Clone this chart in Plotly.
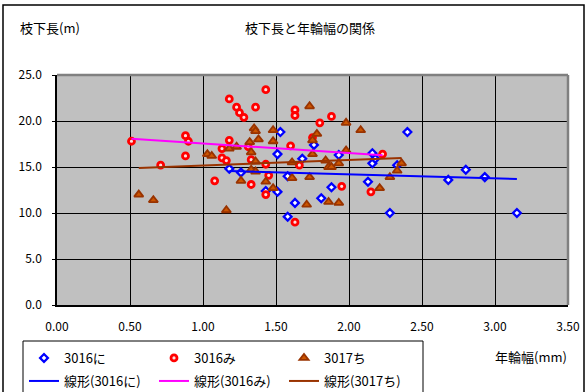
import numpy as np
import plotly.graph_objects as go

# 年輪幅 (mm) と 枝下長 (m) — 3 調査木
ni_x = [1.18, 1.26, 1.43, 1.51, 1.51, 1.53, 1.58, 1.58, 1.63, 1.68, 1.76, 1.81, 1.88,
        1.93, 2.13, 2.16, 2.16, 2.18, 2.28, 2.33, 2.40, 2.68, 2.80, 2.93, 3.15]
ni_y = [14.8, 14.4, 12.4, 12.3, 16.4, 18.8, 14.0, 9.6, 11.1, 15.9, 17.4, 11.6, 12.8,
        16.3, 13.4, 16.5, 15.4, 15.9, 10.0, 15.2, 18.8, 13.6, 14.7, 13.9, 10.0]

mi_x = [0.51, 0.71, 0.88, 0.90, 0.88, 1.08, 1.13, 1.13, 1.16, 1.18, 1.18, 1.23, 1.25,
        1.28, 1.31, 1.33, 1.33, 1.36, 1.43, 1.43, 1.43, 1.45, 1.60, 1.63, 1.63, 1.63,
        1.66, 1.75, 1.80, 1.88, 1.95, 2.15, 2.23]
mi_y = [17.8, 15.2, 18.4, 17.8, 16.2, 13.5, 17.0, 16.0, 15.7, 22.4, 17.9, 21.5, 20.9,
        20.4, 17.2, 15.8, 13.1, 21.5, 23.4, 15.3, 12.0, 14.1, 17.3, 21.2, 20.6, 9.0,
        15.2, 18.2, 19.8, 20.5, 12.9, 12.3, 16.4]

chi_x = [0.56, 0.66, 1.03, 1.06, 1.16, 1.18, 1.23, 1.26, 1.32, 1.33, 1.33, 1.35, 1.36,
         1.36, 1.36, 1.38, 1.43, 1.48, 1.48, 1.48, 1.61, 1.61, 1.71, 1.73, 1.73, 1.75,
         1.75, 1.78, 1.84, 1.86, 1.88, 1.86, 1.93, 1.93, 1.98, 1.98, 2.08, 2.21, 2.28,
         2.33, 2.36]
chi_y = [12.0, 11.4, 16.4, 16.2, 10.3, 17.0, 17.2, 13.5, 17.7, 16.6, 14.7, 19.2, 18.9,
         15.6, 14.5, 18.0, 13.4, 19.0, 17.8, 12.7, 15.5, 13.8, 10.9, 21.6, 13.9, 17.9,
         16.4, 18.6, 15.7, 15.0, 15.0, 11.2, 15.4, 11.1, 19.8, 16.8, 19.0, 12.7, 13.9,
         14.6, 15.4]

series_names = ["3016に", "3016み", "3017ち"]
trend_names = ["線形(3016に)", "線形(3016み)", "線形(3017ち)"]
x_ticks = [0.0, 0.5, 1.0, 1.5, 2.0, 2.5, 3.0, 3.5]
y_ticks = [0.0, 5.0, 10.0, 15.0, 20.0, 25.0]

FONT = "Noto Sans CJK JP"

# plot area in pixels
W, H = 587, 392
L, R, T, B = 57, 19, 75, 87
PW, PH = W - L - R, H - T - B


def px(x):
    return (x - L) / PW


def py(y):
    return (H - B - y) / PH


def trend(xs, ys):
    k, c = np.polyfit(xs, ys, 1)
    xx = np.array([min(xs), max(xs)])
    return xx, k * xx + c


fig = go.Figure()

marker_styles = [
    dict(symbol="diamond", size=6, color="white", line=dict(color="#0000FF", width=2.3)),
    dict(symbol="circle", size=6, color="#FFE0E0", line=dict(color="#FF0000", width=2.8)),
    dict(symbol="triangle-up", size=8, color="#CC5500", line=dict(color="#993300", width=1.8)),
]
line_colors = ["#0000FF", "#FF00FF", "#993300"]
data = [(ni_x, ni_y), (mi_x, mi_y), (chi_x, chi_y)]

for (xs, ys), name, ms in zip(data, series_names, marker_styles):
    fig.add_trace(go.Scatter(x=xs, y=ys, mode="markers", name=name,
                             marker=ms, legend="legend"))

for (xs, ys), name, col in zip(data, trend_names, line_colors):
    tx, ty = trend(xs, ys)
    fig.add_trace(go.Scatter(x=tx, y=ty, mode="lines", name=name,
                             line=dict(color=col, width=2), legend="legend2"))

legend_common = dict(orientation="h", entrywidth=85, entrywidthmode="pixels",
                     bgcolor="rgba(0,0,0,0)", borderwidth=0,
                     font=dict(family=FONT, size=13, color="black"),
                     xanchor="left", yanchor="top", itemwidth=30,
                     tracegroupgap=0)

fig.update_layout(
    width=W, height=H,
    margin=dict(l=L, r=R, t=T, b=B, pad=0, autoexpand=False),
    paper_bgcolor="white",
    plot_bgcolor="#C0C0C0",
    font=dict(family=FONT, size=12, color="black"),
    legend=dict(x=px(24), y=py(343), **legend_common),
    legend2=dict(x=px(24), y=py(366), **legend_common),
    xaxis=dict(range=[0, 3.5], tickvals=x_ticks, tickformat=".2f",
               showgrid=True, gridcolor="black", gridwidth=1,
               showline=True, linecolor="black", linewidth=1.5,
               zeroline=False, ticks="", ticklabelstandoff=10,
               tickfont=dict(family=FONT, size=12, color="black")),
    yaxis=dict(range=[0, 25], tickvals=y_ticks, tickformat=".1f",
               showgrid=True, gridcolor="black", gridwidth=1,
               showline=True, linecolor="black", linewidth=1.5,
               zeroline=False, ticks="outside", ticklen=3, tickcolor="black",
               ticklabelstandoff=8,
               tickfont=dict(family=FONT, size=12, color="black")),
    showlegend=True,
)

shapes = [
    # chart frame
    dict(type="rect", xref="paper", yref="paper",
         x0=px(3), x1=px(584), y0=py(402), y1=py(5),
         line=dict(color="black", width=1.5), layer="above"),
    # plot area top / right edges
    dict(type="line", xref="paper", yref="paper", x0=0, x1=1, y0=1, y1=1,
         line=dict(color="#808080", width=2.5), layer="above"),
    dict(type="line", xref="paper", yref="paper", x0=1, x1=1, y0=0, y1=1,
         line=dict(color="#808080", width=2.5), layer="above"),
    # legend box
    dict(type="rect", xref="paper", yref="paper",
         x0=px(23), x1=px(423), y0=py(400), y1=py(341),
         line=dict(color="black", width=1), layer="above"),
]
fig.update_layout(shapes=shapes)

annotations = [
    dict(text="枝下長と年輪幅の関係", x=px(310), y=py(27), xref="paper", yref="paper",
         xanchor="center", yanchor="middle", showarrow=False,
         font=dict(family=FONT, size=13, color="black")),
    dict(text="枝下長(m)", x=px(18), y=py(27), xref="paper", yref="paper",
         xanchor="left", yanchor="middle", showarrow=False,
         font=dict(family=FONT, size=13, color="black")),
    dict(text="年輪幅(mm)", x=px(493), y=py(356), xref="paper", yref="paper",
         xanchor="left", yanchor="middle", showarrow=False,
         font=dict(family=FONT, size=13, color="black")),
]
fig.update_layout(annotations=annotations)

fig.write_html("out.html")
